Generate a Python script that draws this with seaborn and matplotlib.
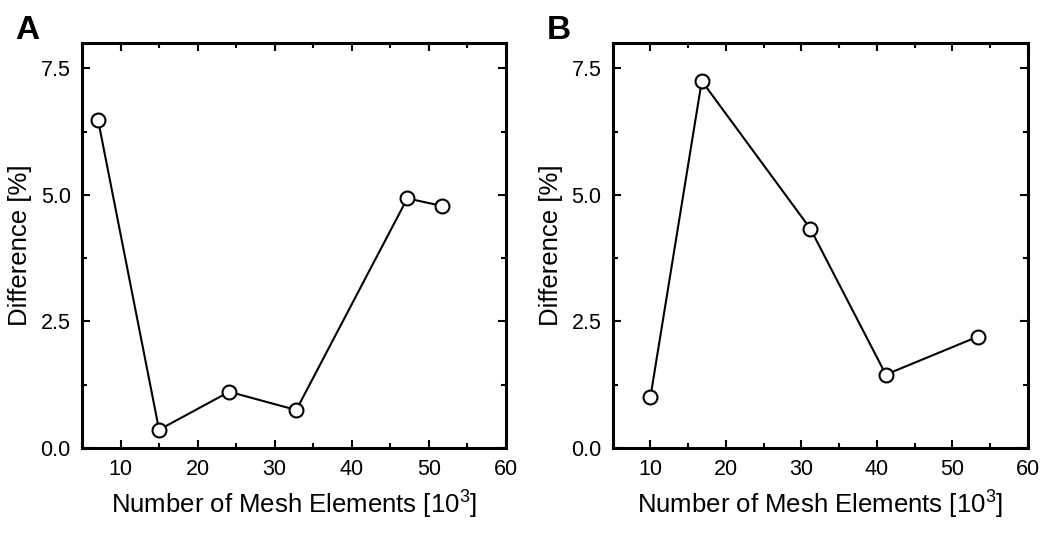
import matplotlib
matplotlib.use("Agg")
import matplotlib.pyplot as plt
from matplotlib.ticker import MultipleLocator, FormatStrFormatter
import seaborn as sns
import pandas as pd

# Mesh convergence study: element count (thousands) vs. relative difference
mesh_a = [7.1, 15.0, 24.1, 32.8, 47.2, 51.75]
diff_a = [6.47, 0.36, 1.11, 0.75, 4.93, 4.78]

mesh_b = [10.0, 16.8, 31.2, 41.2, 53.4]
diff_b = [1.01, 7.25, 4.33, 1.45, 2.20]

panel_labels = ["A", "B"]
x_label = "Number of Mesh Elements [10$^3$]"
y_label = "Difference [%]"

sns.set_style("ticks")
plt.rcParams["font.family"] = ["Liberation Sans", "DejaVu Sans"]
plt.rcParams["mathtext.fontset"] = "custom"
plt.rcParams["mathtext.rm"] = "Liberation Sans"
for key in ["text.color", "axes.labelcolor", "xtick.color", "ytick.color",
            "xtick.labelcolor", "ytick.labelcolor"]:
    plt.rcParams[key] = "black"

fig = plt.figure(figsize=(10.55, 5.44), dpi=100)
ax_a = fig.add_axes([0.0777, 0.1765, 0.4019, 0.7445])
ax_b = fig.add_axes([0.5808, 0.1765, 0.3933, 0.7445])

datasets = [(ax_a, mesh_a, diff_a), (ax_b, mesh_b, diff_b)]

for (ax, xs, ys), letter in zip(datasets, panel_labels):
    df = pd.DataFrame({"mesh": xs, "diff": ys})
    sns.lineplot(data=df, x="mesh", y="diff", ax=ax, color="black",
                 linewidth=1.5, marker="o", markersize=10,
                 markerfacecolor="white", markeredgecolor="black",
                 markeredgewidth=1.5, sort=False)
    ax.set_xlim(5, 60)
    ax.set_ylim(0, 8)
    ax.xaxis.set_major_locator(MultipleLocator(10))
    ax.xaxis.set_minor_locator(MultipleLocator(5))
    ax.yaxis.set_major_locator(MultipleLocator(2.5))
    ax.yaxis.set_minor_locator(MultipleLocator(1.25))
    ax.yaxis.set_major_formatter(FormatStrFormatter("%.1f"))
    ax.tick_params(which="both", direction="in", top=True, right=True,
                   color="black", labelcolor="black", labelsize=15.5, pad=8)
    ax.tick_params(which="major", length=6, width=1.5)
    ax.tick_params(which="minor", length=3.5, width=1.5)
    for sp in ax.spines.values():
        sp.set_linewidth(2.2)
        sp.set_color("black")
    ax.set_xlabel(x_label, fontsize=18.5, labelpad=5, color="black")
    ax.set_ylabel(y_label, fontsize=18.5, labelpad=6, color="black")
    ax.text(-0.158, 1.032, letter, transform=ax.transAxes, fontsize=24,
            fontweight="bold", ha="left", va="center", color="black")

fig.savefig("out.png", dpi=100, facecolor="white")
